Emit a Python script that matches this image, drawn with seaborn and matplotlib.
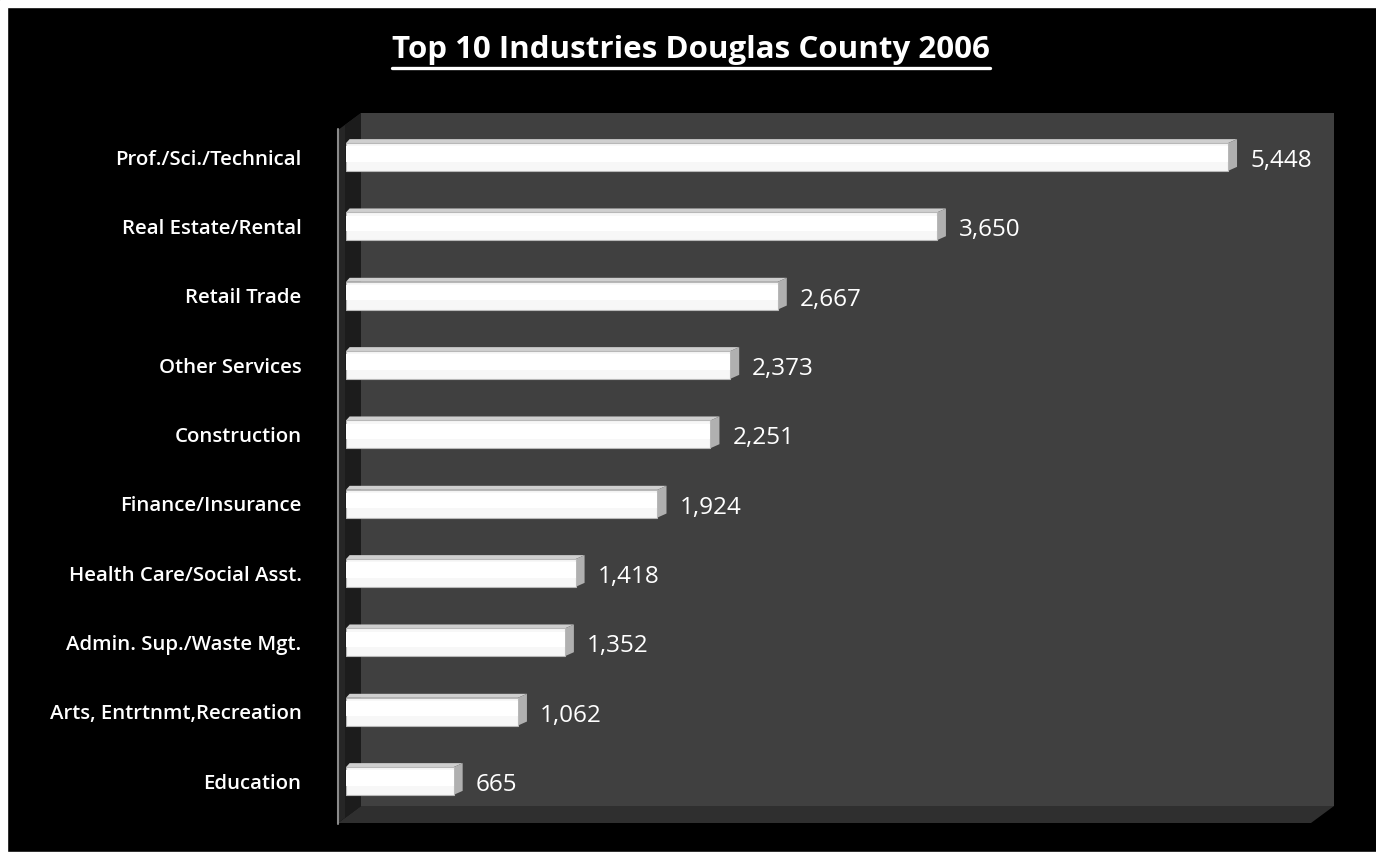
"""
Top 10 industries, Douglas County 2006 - horizontal bar chart with a
fake 3D look (back wall, side wall, floor and bevelled bars).
"""

import matplotlib
matplotlib.use("Agg")
import matplotlib.pyplot as plt
from matplotlib.lines import Line2D
from matplotlib.patches import Polygon, Rectangle
import pandas as pd
import seaborn as sns

# ── Data ─────────────────────────────────────────────────────────────────────
INDUSTRIES = [
    "Prof./Sci./Technical",
    "Real Estate/Rental",
    "Retail Trade",
    "Other Services",
    "Construction",
    "Finance/Insurance",
    "Health Care/Social Asst.",
    "Admin. Sup./Waste Mgt.",
    "Arts, Entrtnmt,Recreation",
    "Education",
]
EMPLOYEES = [5448, 3650, 2667, 2373, 2251, 1924, 1418, 1352, 1062, 665]
TITLE = "Top 10 Industries Douglas County 2006"

# ── Layout (pixels of the 1376x852 canvas) ───────────────────────────────────
W, H = 1376, 852
PX_PER_UNIT = 0.1619          # horizontal scale of the value axis
AX_L, AX_R, AX_T, AX_B = 346, 1334, 113, 806
FIRST_Y, LAST_Y = 157, 781    # centres of first and last bar


def fx(x):
    return x / W


def fy(y):
    return 1 - y / H


def main() -> None:
    sns.set_theme(style="white")
    plt.rcParams["font.family"] = ["Open Sans", "DejaVu Sans"]

    fig = plt.figure(figsize=(W / 100, H / 100), dpi=100, facecolor="black")

    # thin white margin on the top and left edge of the original picture
    fig.patches.append(Rectangle((0, 0), 1, 1, transform=fig.transFigure,
                                 facecolor="white", zorder=-10))
    fig.patches.append(Rectangle((fx(7), 0), 1, fy(7), transform=fig.transFigure,
                                 facecolor="black", zorder=-9))

    def poly(points, color, z=-5, **kw):
        fig.patches.append(Polygon([(fx(x), fy(y)) for x, y in points],
                                   closed=True, transform=fig.transFigure,
                                   facecolor=color, edgecolor="none", zorder=z, **kw))

    # back wall, left side wall, floor
    poly([(361, 113), (1334, 113), (1334, 806), (361, 806)], "#404040")
    poly([(338, 130), (361, 113), (361, 806), (338, 823)], "#262626")
    poly([(345, 125), (361, 113), (361, 806), (345, 818)], "#1c1c1c", z=-4)
    poly([(338, 823), (361, 806), (1334, 806), (1311, 823)], "#2f2f2f")
    fig.lines.append(Line2D([fx(338), fx(338)], [fy(129), fy(824)],
                            transform=fig.transFigure, color="#8a8a8a", lw=1.5))

    ax = fig.add_axes([fx(AX_L), fy(AX_B), fx(AX_R) - fx(AX_L), fy(AX_T) - fy(AX_B)])
    ax.set_facecolor("none")

    df = pd.DataFrame({"industry": INDUSTRIES, "employees": EMPLOYEES})
    sns.barplot(data=df, x="employees", y="industry", orient="h",
                color="#f7f7f7", width=0.40, saturation=1, ax=ax,
                edgecolor="#b8b8b8", linewidth=0.8, zorder=3)

    step = (LAST_Y - FIRST_Y) / (len(INDUSTRIES) - 1)
    ax.set_xlim(0, (AX_R - AX_L) / PX_PER_UNIT)
    ax.set_ylim(len(INDUSTRIES) - 1 + (AX_B - LAST_Y) / step, -(FIRST_Y - AX_T) / step)

    # bevel: a top face and a right-hand face on every bar
    dx = 9 / PX_PER_UNIT
    dy = 4 / step
    for bar in ax.patches[:len(INDUSTRIES)]:
        x0, y0 = bar.get_x(), bar.get_y()
        w, h = bar.get_width(), bar.get_height()
        top, bot, x1 = y0, y0 + h, x0 + w
        ax.add_patch(Polygon([(x0, top), (x1, top), (x1 + dx, top - dy), (x0 + dx * 0.4, top - dy)],
                             facecolor="#cfcfcf", edgecolor="none", zorder=2))
        ax.add_patch(Polygon([(x1, top), (x1 + dx, top - dy), (x1 + dx, bot - dy), (x1, bot)],
                             facecolor="#b0b0b0", edgecolor="none", zorder=2))
        ax.add_patch(Rectangle((x0, top + h * 0.12), w, h * 0.55,
                               facecolor="white", edgecolor="none", zorder=4))

    # value labels
    for i, v in enumerate(EMPLOYEES):
        ax.text(v + 22 / PX_PER_UNIT, i + 0.06, f"{v:,}", color="white",
                fontsize=17.5, ha="left", va="center", zorder=5)

    ax.set_xlabel("")
    ax.set_ylabel("")
    ax.set_xticks([])
    ax.tick_params(axis="y", length=0, pad=32, labelcolor="white", labelsize=14.7)
    for lab in ax.get_yticklabels():
        lab.set_fontweight("semibold")
    sns.despine(ax=ax, left=True, bottom=True)

    # title with underline
    title = fig.text(fx(691), fy(50), TITLE, ha="center", va="center",
                     color="white", fontsize=22.5, fontweight="bold")
    fig.canvas.draw()
    bb = title.get_window_extent().transformed(fig.transFigure.inverted())
    fig.lines.append(Line2D([bb.x0, bb.x1], [fy(68), fy(68)],
                            transform=fig.transFigure, color="white", lw=2.4))

    fig.savefig("out.png", dpi=100, facecolor="black")
    plt.close(fig)


if __name__ == "__main__":
    main()
